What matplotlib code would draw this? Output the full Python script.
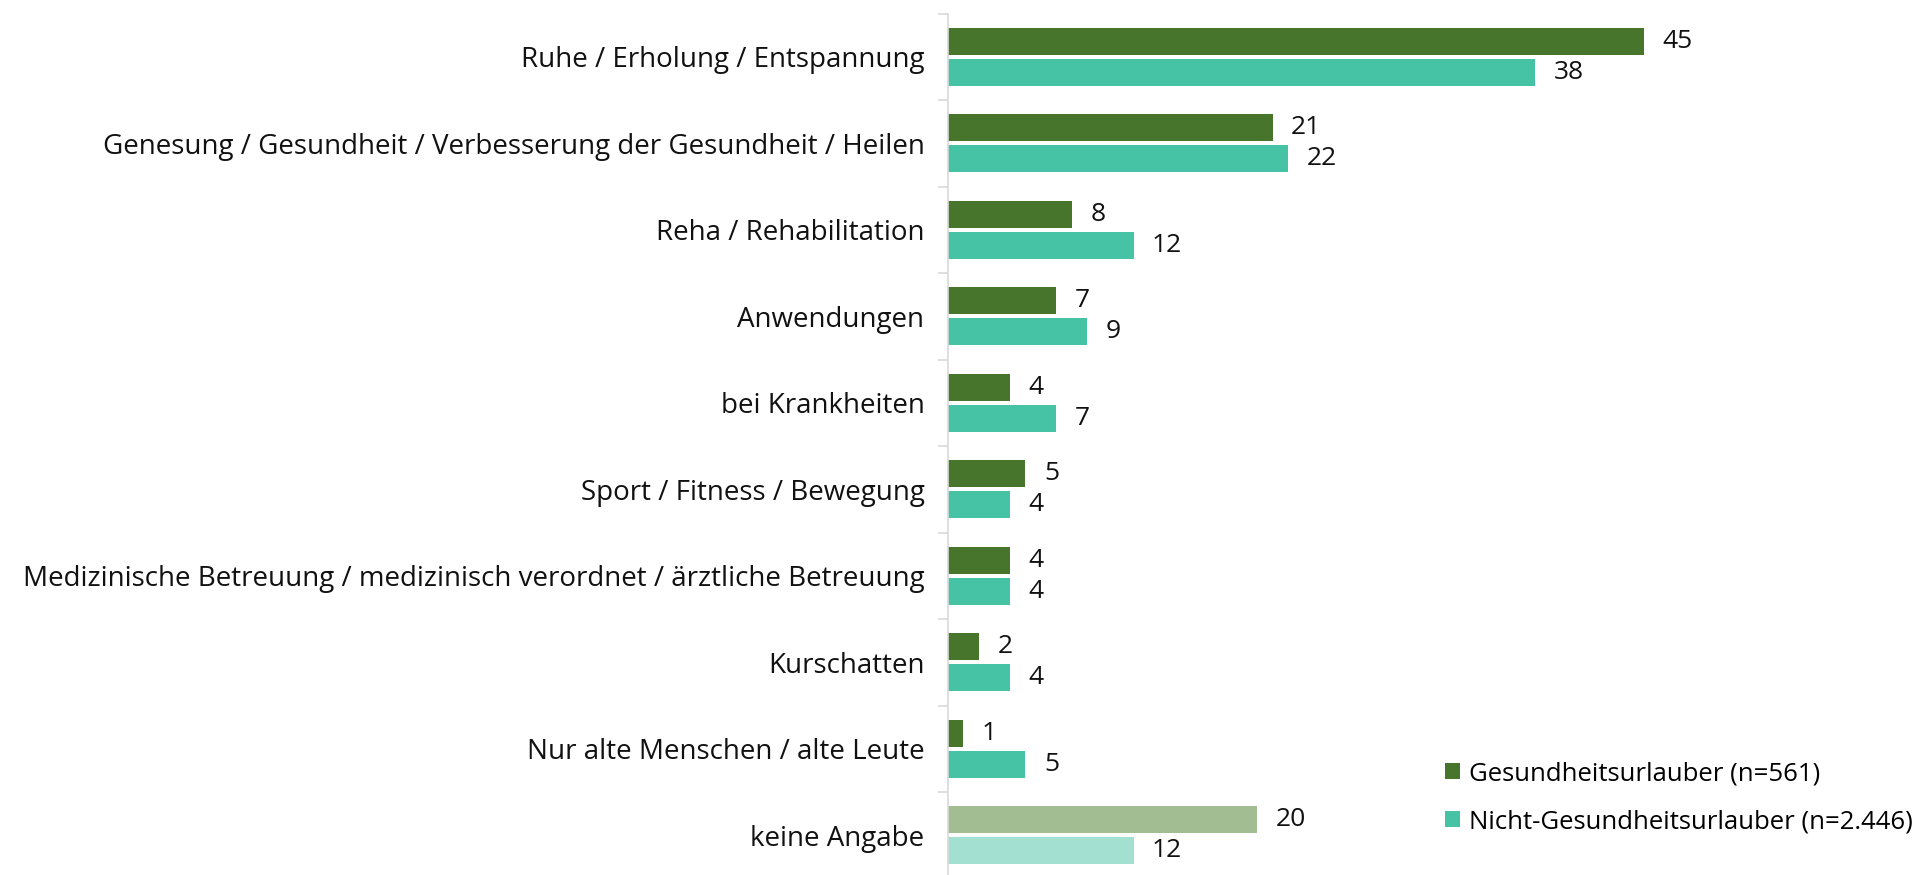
import matplotlib.pyplot as plt
import numpy as np

plt.rcParams['font.family'] = ['Open Sans', 'DejaVu Sans']

# Daten
kategorien = [
    'Ruhe / Erholung / Entspannung',
    'Genesung / Gesundheit / Verbesserung der Gesundheit / Heilen',
    'Reha / Rehabilitation',
    'Anwendungen',
    'bei Krankheiten',
    'Sport / Fitness / Bewegung',
    'Medizinische Betreuung / medizinisch verordnet / ärztliche Betreuung',
    'Kurschatten',
    'Nur alte Menschen / alte Leute',
    'keine Angabe',
]
gesundheitsurlauber = [45, 21, 8, 7, 4, 5, 4, 2, 1, 20]
nicht_gesundheitsurlauber = [38, 22, 12, 9, 7, 4, 4, 4, 5, 12]
serien = ['Gesundheitsurlauber (n=561)', 'Nicht-Gesundheitsurlauber (n=2.446)']

farbe_g = '#48752C'
farbe_n = '#46C3A5'
farbe_g_hell = '#A3BD92'
farbe_n_hell = '#A3E0D1'

fig = plt.figure(figsize=(19.16, 8.75), dpi=100)
ax = fig.add_axes([0.4948, -0.004, 0.484, 0.9885])

y = np.arange(len(kategorien))
h = 0.31
off = 0.18
farben_g = [farbe_g] * (len(kategorien) - 1) + [farbe_g_hell]
farben_n = [farbe_n] * (len(kategorien) - 1) + [farbe_n_hell]

b1 = ax.barh(y - off, gesundheitsurlauber, height=h, color=farben_g, label=serien[0])
b2 = ax.barh(y + off, nicht_gesundheitsurlauber, height=h, color=farben_n, label=serien[1])

for balken, werte in [(b1, gesundheitsurlauber), (b2, nicht_gesundheitsurlauber)]:
    for r, v in zip(balken, werte):
        ax.text(r.get_width() + 1.2, r.get_y() + r.get_height() / 2, str(v),
                va='center', ha='left', fontsize=19, color='#111111')

ax.set_xlim(0, 60)
ax.set_ylim(len(kategorien) - 0.5, -0.5)
ax.set_yticks(y)
ax.set_yticklabels(kategorien, fontsize=20, color='#111111')
ax.set_yticks(np.arange(len(kategorien) + 1) - 0.5, minor=True)
ax.tick_params(axis='y', which='major', length=0, pad=17)
ax.tick_params(axis='y', which='minor', length=7, color='#D9D9D9', width=1.2)
ax.set_xticks([])
for s in ['top', 'right', 'bottom']:
    ax.spines[s].set_visible(False)
ax.spines['left'].set_color('#D9D9D9')
ax.spines['left'].set_linewidth(1.2)

leg = fig.legend(handles=[b1[0], b2[0]], labels=serien, loc='lower left',
                 bbox_to_anchor=(0.742, 0.02), frameon=False, fontsize=18.5,
                 handlelength=0.6, handleheight=0.6, handletextpad=0.35,
                 labelspacing=0.9)

plt.savefig('out.png', dpi=100)
